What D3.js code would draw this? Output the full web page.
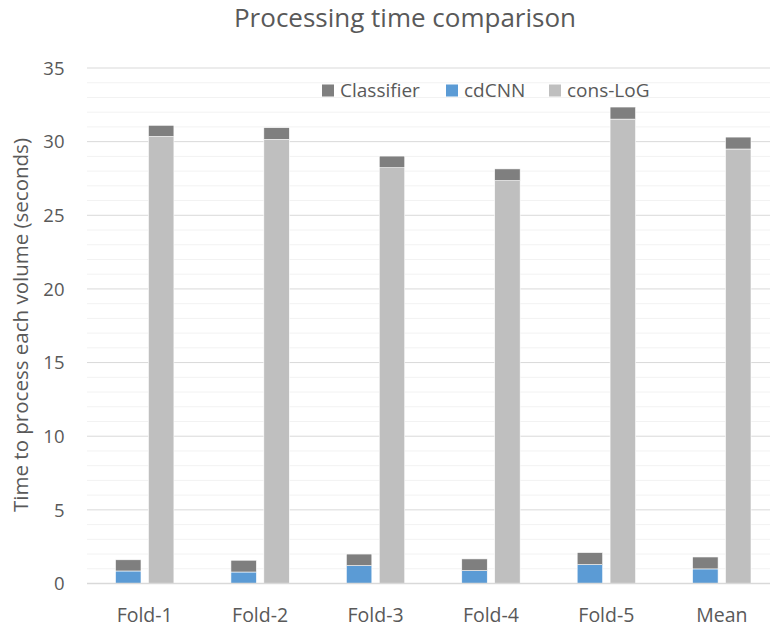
<!DOCTYPE html>
<html><head><meta charset="utf-8">
<script src="https://cdn.jsdelivr.net/npm/d3@7"></script>
<style>body{margin:0;background:#fff}svg{display:block;font-family:"Open Sans",sans-serif}</style>
</head><body><svg id="c" width="770" height="629"></svg>
<script>
const categories = ["Fold-1","Fold-2","Fold-3","Fold-4","Fold-5","Mean"];
const classifier = [0.76, 0.80, 0.79, 0.80, 0.82, 0.81];
const cdCNN      = [0.85, 0.78, 1.21, 0.87, 1.28, 0.99];
const consLoG    = [30.35, 30.15, 28.23, 27.35, 31.53, 29.5];
const yTicks = [0,5,10,15,20,25,30,35];
const seriesNames = ["Classifier","cdCNN","cons-LoG"];
const colors = {"Classifier":"#7f7f7f","cdCNN":"#5b9bd5","cons-LoG":"#bfbfbf"};

const svg = d3.select("#c");
const x = d3.scaleBand().domain(categories).range([87, 779.5]).paddingInner(0).paddingOuter(0);
const sub = d3.scaleBand().domain(["a","b"]).range([-29.2, 29.2]).paddingInner(0.225);
const y = d3.scaleLinear().domain([0,35]).range([583.5, 68]);

// minor gridlines
svg.append("g").selectAll("line").data(d3.range(0,36,1).filter(v=>v%5!==0)).join("line")
  .attr("x1",87).attr("x2",770).attr("y1",d=>y(d)).attr("y2",d=>y(d))
  .attr("stroke","#f2f2f2").attr("stroke-width",1);
// major gridlines
svg.append("g").selectAll("line").data(yTicks.filter(v=>v>0)).join("line")
  .attr("x1",87).attr("x2",770).attr("y1",d=>y(d)).attr("y2",d=>y(d))
  .attr("stroke","#d9d9d9").attr("stroke-width",1);

// bars
const stacks = [];
categories.forEach((c,i)=>{
  stacks.push({cat:c, sub:"a", s:"cdCNN", y0:0, y1:cdCNN[i]});
  stacks.push({cat:c, sub:"a", s:"Classifier", y0:cdCNN[i], y1:cdCNN[i]+classifier[i]});
  stacks.push({cat:c, sub:"b", s:"cons-LoG", y0:0, y1:consLoG[i]});
  stacks.push({cat:c, sub:"b", s:"Classifier", y0:consLoG[i], y1:consLoG[i]+classifier[i]});
});
svg.append("g").selectAll("rect").data(stacks).join("rect")
  .attr("x",d=>x(d.cat)+x.bandwidth()/2+sub(d.sub))
  .attr("width",sub.bandwidth())
  .attr("y",d=>y(d.y1))
  .attr("height",d=>y(d.y0)-y(d.y1))
  .attr("fill",d=>colors[d.s])
  .attr("stroke","#ffffff").attr("stroke-width",0.6);

// baseline axis
svg.append("line").attr("x1",87).attr("x2",770).attr("y1",y(0)).attr("y2",y(0))
  .attr("stroke","#d9d9d9").attr("stroke-width",1.3);

// y tick labels
svg.append("g").selectAll("text").data(yTicks).join("text")
  .attr("x",64.5).attr("y",d=>y(d)).attr("dy","0.36em").attr("text-anchor","end")
  .attr("font-size",18.5).attr("fill","#595959").text(d=>d);

// x labels
svg.append("g").selectAll("text").data(categories).join("text")
  .attr("x",d=>x(d)+x.bandwidth()/2).attr("y",621.5).attr("text-anchor","middle")
  .attr("font-size",19.5).attr("fill","#595959").text(d=>d);

// title
svg.append("text").attr("x",405).attr("y",27).attr("text-anchor","middle")
  .attr("font-size",26).attr("fill","#595959").text("Processing time comparison");

// y axis title
svg.append("text").attr("transform","translate(28,325) rotate(-90)").attr("text-anchor","middle")
  .attr("font-size",20.5).attr("fill","#595959").text("Time to process each volume (seconds)");

// legend
const legX = [322, 446, 549];
const lg = svg.append("g").selectAll("g").data(seriesNames).join("g")
  .attr("transform",(d,i)=>`translate(${legX[i]},84.5)`);
lg.append("rect").attr("width",12).attr("height",12).attr("fill",d=>colors[d]);
lg.append("text").attr("x",18).attr("y",12.2).attr("font-size",19).attr("fill","#595959").text(d=>d);
</script></body></html>
